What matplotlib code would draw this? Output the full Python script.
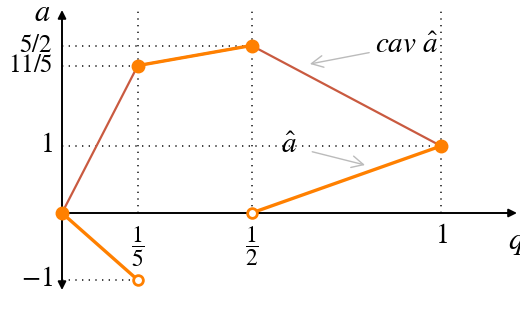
import numpy as np
import matplotlib.pyplot as plt

plt.rcParams['mathtext.fontset'] = 'stix'
plt.rcParams['font.family'] = 'Liberation Serif'

# datos
q_cav = [0, 1/5, 1/2, 1]
a_cav = [0, 11/5, 5/2, 1]

q_seg1 = [0, 1/5]
a_seg1 = [0, -1]
q_seg2 = [1/5, 1/2]
a_seg2 = [11/5, 5/2]
q_seg3 = [1/2, 1]
a_seg3 = [0, 1]

q_fill = [0, 1/5, 1/2, 1]
a_fill = [0, 11/5, 5/2, 1]
q_open = [1/5, 1/2]
a_open = [-1, 0]

xticks = [1/5, 1/2, 1]
xlabels = [r'$\dfrac{1}{5}$', r'$\dfrac{1}{2}$', r'$1$']
yticks = [5/2, 11/5, 1, -1]
ylabels = [r'$5/2$', r'$11/5$', r'$1$', r'$-1$']

naranja = '#FF8000'
rojizo = '#C95A40'

fig = plt.figure(figsize=(5.2, 3.2), dpi=100)
ax = fig.add_axes([0, 0, 1, 1])
ax.set_xlim(-62/379, 458/379)
ax.set_ylim(-107/67, 213/67)
ax.set_axis_off()

# rejilla punteada
top = 3.03
puntos = (0, (0.8, 3.2))
for q in xticks:
    ax.plot([q, q], [0, top], linestyle=puntos, color='#222222', lw=1.2, zorder=1)
ends = {5/2: 1/2, 11/5: 1/5, 1: 1, -1: 1/5}
for a in yticks:
    ax.plot([0, ends[a]], [a, a], linestyle=puntos, color='#222222', lw=1.2, zorder=1)

# ejes
ax.annotate('', xy=(1.2005, 0), xytext=(0, 0),
            arrowprops=dict(arrowstyle='-|>', color='black', lw=1.4,
                            mutation_scale=12, shrinkA=0, shrinkB=0), zorder=2)
ax.annotate('', xy=(0, 3.03), xytext=(0, -1.15),
            arrowprops=dict(arrowstyle='<|-|>', color='black', lw=1.4,
                            mutation_scale=12, shrinkA=0, shrinkB=0), zorder=2)
ax.text(1.177, -0.22, r'$q$', fontsize=22, ha='left', va='top')
ax.text(-0.03, 2.98, r'$a$', fontsize=22, ha='right', va='center')

for q, lab in zip(xticks, xlabels):
    fs = 17 if 'frac' in lab else 20
    ax.text(q, -0.17, lab, fontsize=fs, ha='center', va='top')
for a, lab in zip(yticks, ylabels):
    fs = 18 if '/' in lab else 20
    ax.text(-0.025, a, lab, fontsize=fs, ha='right', va='center')

# funciones
ax.plot(q_cav, a_cav, '-', color=rojizo, lw=1.6, zorder=3)
for qs, as_ in [(q_seg1, a_seg1), (q_seg2, a_seg2), (q_seg3, a_seg3)]:
    ax.plot(qs, as_, '-', color=naranja, lw=2.4, zorder=4)
ax.plot(q_fill, a_fill, 'o', color=naranja, ms=9, zorder=5)
ax.plot(q_open, a_open, 'o', mfc='white', mec=naranja, mew=2, ms=7, zorder=5)

# anotaciones
ax.annotate(r'$cav\ \hat{a}$', xy=(0.654, 2.224), xytext=(0.825, 2.5),
            fontsize=21, ha='left', va='center',
            arrowprops=dict(arrowstyle='->', color='#BBBBBB', lw=1.0,
                            shrinkA=2, shrinkB=0))
ax.annotate(r'$\hat{a}$', xy=(0.7995, 0.716), xytext=(0.60, 1.0),
            fontsize=21, ha='center', va='center',
            arrowprops=dict(arrowstyle='->', color='#BBBBBB', lw=1.0,
                            shrinkA=9, shrinkB=0))

fig.savefig('out.png', dpi=100)
